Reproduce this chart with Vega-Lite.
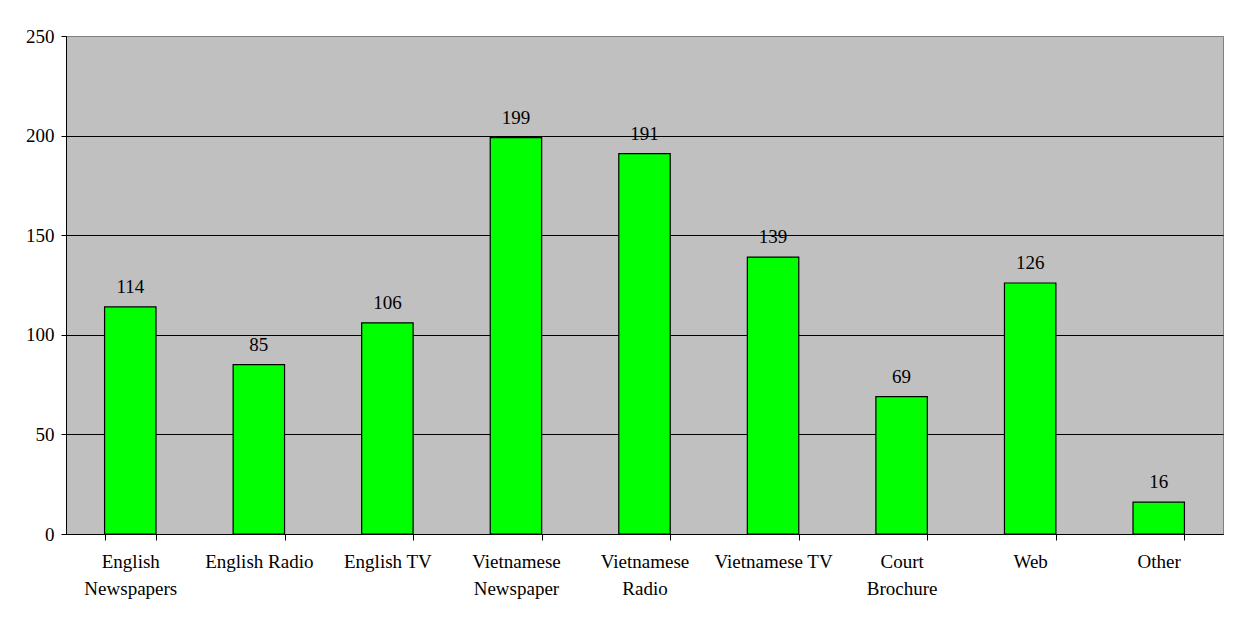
{
  "$schema": "https://vega.github.io/schema/vega-lite/v6.json",
  "autosize": {"type": "none"},
  "padding": {"left": 66, "top": 36, "right": 13, "bottom": 89},
  "width": 1157,
  "height": 498,
  "background": "white",
  "data": {
    "values": [
      {"media": "English Newspapers", "count": 114},
      {"media": "English Radio", "count": 85},
      {"media": "English TV", "count": 106},
      {"media": "Vietnamese Newspaper", "count": 199},
      {"media": "Vietnamese Radio", "count": 191},
      {"media": "Vietnamese TV", "count": 139},
      {"media": "Court Brochure", "count": 69},
      {"media": "Web", "count": 126},
      {"media": "Other", "count": 16}
    ]
  },
  "encoding": {
    "x": {
      "field": "media",
      "type": "nominal",
      "sort": null,
      "scale": {"paddingInner": 0.6, "paddingOuter": 0.3},
      "axis": {
        "title": null,
        "labelAngle": 0,
        "ticks": true,
        "tickBand": "extent",
        "domainColor": "black",
        "tickColor": "black",
        "tickSize": 6,
        "tickWidth": 1,
        "labelPadding": 12,
        "labelFont": "Liberation Serif",
        "labelFontSize": 19,
        "labelColor": "black",
        "labelLineHeight": 27,
        "labelBaseline": "top",
        "labelExpr": "indexof(['English Newspapers','Vietnamese Newspaper','Vietnamese Radio','Court Brochure'], datum.value) >= 0 ? split(datum.value, ' ') : datum.value"
      }
    },
    "y": {
      "field": "count",
      "type": "quantitative",
      "scale": {"domain": [0, 250], "nice": false},
      "axis": {
        "title": null,
        "values": [0, 50, 100, 150, 200, 250],
        "grid": true,
        "ticks": true,
        "gridColor": {"condition": {"test": "datum.value == 250", "value": "#808080"}, "value": "black"},
        "gridOpacity": 1,
        "domainColor": "black",
        "tickColor": "black",
        "tickSize": 5,
        "tickWidth": 1,
        "labelPadding": 7,
        "labelFont": "Liberation Serif",
        "labelFontSize": 19,
        "labelColor": "black"
      }
    }
  },
  "layer": [
    {
      "mark": {"type": "bar", "fill": "#00FF00", "stroke": "black", "strokeWidth": 1.2}
    },
    {
      "mark": {"type": "text", "font": "Liberation Serif", "fontSize": 19, "color": "black", "baseline": "alphabetic", "dy": -14},
      "encoding": {"text": {"field": "count", "type": "quantitative"}}
    }
  ],
  "config": {
    "view": {"fill": "#C0C0C0", "stroke": "#808080"}
  }
}
